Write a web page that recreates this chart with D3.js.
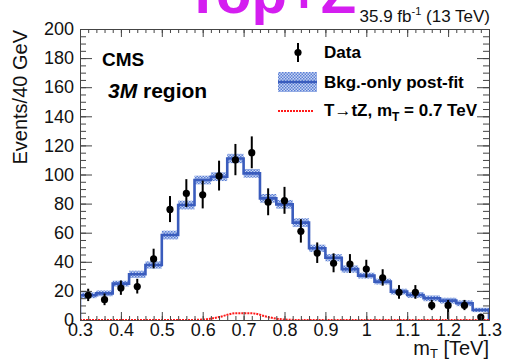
<!DOCTYPE html>
<html>
<head>
<meta charset="utf-8">
<script src="https://cdn.jsdelivr.net/npm/d3@7"></script>
<style>
  body { margin: 0; background: #fff; }
  text { font-family: "Liberation Sans", Arial, Helvetica, sans-serif; }
</style>
</head>
<body>
<script>
// bin edges 0.30 .. 1.30 TeV, 40 GeV wide
const binEdges = d3.range(26).map(i => +(0.3 + i * 0.04).toFixed(2));
const binCenters = binEdges.slice(0, -1).map(e => +(e + 0.02).toFixed(2));

const dataCounts = [17, 14, 22, 23, 42, 76, 87, 86, 99, 110, 115, 81, 82, 61, 46, 39, 38.5, 35, 29, 19, 19, 10, 10, 10, 2];
const dataErrLo  = [4, 3.8, 4.7, 4.8, 6.5, 8.7, 9.3, 9.3, 10, 10.5, 10.7, 9, 9, 7.8, 6.8, 6.2, 6.2, 5.9, 5.4, 4.4, 4.4, 3.2, 9.5, 3.2, 1.4];
const dataErrHi  = [4.5, 4.2, 5.2, 5.3, 7, 9.2, 9.8, 9.8, 10.5, 11, 11.2, 9.5, 9.5, 8.3, 7.3, 6.8, 6.8, 6.4, 5.9, 5, 5, 3.8, 3.8, 3.8, 2.2];
const bkgFit     = [17, 18.3, 25, 31.4, 37.8, 58.4, 79, 96.2, 98.5, 111, 100.8, 83.6, 79.5, 66.9, 49.3, 42.8, 35, 30.5, 26.4, 19.5, 17.2, 14.9, 13.3, 11.5, 6.9];
const bkgUnc     = [2, 2, 2, 2.5, 2.5, 3, 3, 3, 3, 3.2, 3, 3, 3, 3, 2.5, 2.5, 2.5, 2, 2, 2, 2, 2, 2, 2, 1.5];
const signal     = [0, 0, 0, 0, 0, 0, 0, 0.3, 2, 4.6, 4.6, 2, 0.3, 0, 0, 0, 0, 0, 0, 0, 0, 0, 0, 0, 0];

const yTickStep = 20;

const width = 505, height = 361;
const svg = d3.select("body").append("svg")
    .attr("width", width)
    .attr("height", height);

const x = d3.scaleLinear().domain([0.3, 1.3]).range([80, 489]);
const y = d3.scaleLinear().domain([0, 200]).range([320, 29]);

// band pattern
const defs = svg.append("defs");
const pat = defs.append("pattern")
    .attr("id", "band")
    .attr("patternUnits", "userSpaceOnUse")
    .attr("width", 3).attr("height", 3);
pat.append("rect").attr("width", 3).attr("height", 3).attr("fill", "#c9d5f2");
pat.append("rect").attr("width", 1.5).attr("height", 1.5).attr("fill", "#5a7fd6");
pat.append("rect").attr("x", 1.5).attr("y", 1.5).attr("width", 1.5).attr("height", 1.5).attr("fill", "#5a7fd6");

defs.append("clipPath").attr("id", "frame")
    .append("rect").attr("x", 80).attr("y", 29).attr("width", 409).attr("height", 291);

const plot = svg.append("g").attr("clip-path", "url(#frame)");

// uncertainty band (one box per bin)
plot.selectAll("rect.unc")
    .data(bkgFit)
    .join("rect")
    .attr("class", "unc")
    .attr("x", (d, i) => x(binEdges[i]))
    .attr("width", (d, i) => x(binEdges[i + 1]) - x(binEdges[i]))
    .attr("y", (d, i) => y(d + bkgUnc[i]))
    .attr("height", (d, i) => y(d - bkgUnc[i]) - y(d + bkgUnc[i]))
    .attr("fill", "url(#band)");

// background step histogram
const stepPts = [[binEdges[0], 0]];
bkgFit.forEach((v, i) => { stepPts.push([binEdges[i], v]); stepPts.push([binEdges[i + 1], v]); });
stepPts.push([binEdges[binEdges.length - 1], 0]);
plot.append("path")
    .datum(stepPts)
    .attr("fill", "none")
    .attr("stroke", "#3a5cbd")
    .attr("stroke-width", 2.6)
    .attr("d", d3.line().x(d => x(d[0])).y(d => y(d[1])));

// signal
const sigPts = [[0.3, signal[0]]].concat(binCenters.map((c, i) => [c, signal[i]]), [[1.3, signal[signal.length - 1]]]);
plot.append("path")
    .datum(sigPts)
    .attr("fill", "none")
    .attr("stroke", "#ff1a1a")
    .attr("stroke-width", 2)
    .attr("stroke-dasharray", "2,1")
    .attr("d", d3.line().x(d => x(d[0])).y(d => y(d[1])).curve(d3.curveMonotoneX));

// data points
const pts = svg.append("g");
pts.selectAll("line.err")
    .data(dataCounts)
    .join("line")
    .attr("x1", (d, i) => x(binCenters[i]))
    .attr("x2", (d, i) => x(binCenters[i]))
    .attr("y1", (d, i) => y(Math.max(0, d - dataErrLo[i])))
    .attr("y2", (d, i) => y(d + dataErrHi[i]))
    .attr("stroke", "#000")
    .attr("stroke-width", 2);
pts.selectAll("circle")
    .data(dataCounts)
    .join("circle")
    .attr("cx", (d, i) => x(binCenters[i]))
    .attr("cy", d => y(d))
    .attr("r", 3.6)
    .attr("fill", "#000");

// axes
const axisCol = "#444";
function styleAxis(g) {
    g.select(".domain").attr("stroke", axisCol);
    g.selectAll(".tick line").attr("stroke", axisCol);
    g.selectAll("text").attr("fill", "#111").style("font-size", "18px").style("font-family", "Liberation Sans, Arial, sans-serif");
}
const fmtX = d => String(+d.toFixed(1));

svg.append("g").attr("transform", "translate(0,320)")
    .call(d3.axisBottom(x).ticks(50).tickSize(-4).tickFormat("").tickSizeOuter(0)).call(styleAxis);
svg.append("g").attr("transform", "translate(0,320)")
    .call(d3.axisBottom(x).ticks(10).tickSize(-8).tickPadding(3).tickFormat(fmtX).tickSizeOuter(0)).call(styleAxis);
svg.append("g").attr("transform", "translate(0,29)")
    .call(d3.axisTop(x).ticks(50).tickSize(-4).tickFormat("").tickSizeOuter(0)).call(styleAxis);
svg.append("g").attr("transform", "translate(0,29)")
    .call(d3.axisTop(x).ticks(10).tickSize(-8).tickFormat("").tickSizeOuter(0)).call(styleAxis);

svg.append("g").attr("transform", "translate(80,0)")
    .call(d3.axisLeft(y).ticks(50).tickSize(-6).tickFormat("").tickSizeOuter(0)).call(styleAxis);
svg.append("g").attr("transform", "translate(80,0)")
    .call(d3.axisLeft(y).tickValues(d3.range(0, 201, yTickStep)).tickSize(-12).tickPadding(6).tickSizeOuter(0)).call(styleAxis);
svg.append("g").attr("transform", "translate(489,0)")
    .call(d3.axisRight(y).ticks(50).tickSize(-6).tickFormat("").tickSizeOuter(0)).call(styleAxis);
svg.append("g").attr("transform", "translate(489,0)")
    .call(d3.axisRight(y).tickValues(d3.range(0, 201, yTickStep)).tickSize(-12).tickFormat("").tickSizeOuter(0)).call(styleAxis);

// axis titles
const xt = svg.append("text")
    .attr("x", 489).attr("y", 355)
    .attr("text-anchor", "end")
    .style("font-size", "20px").attr("fill", "#111");
xt.append("tspan").text("m");
xt.append("tspan").attr("dy", 3).style("font-size", "13px").text("T");
xt.append("tspan").attr("dy", -3).text(" [TeV]");

svg.append("text")
    .attr("transform", "translate(27,30) rotate(-90)")
    .attr("text-anchor", "end")
    .style("font-size", "20px").attr("fill", "#111")
    .text("Events/40 GeV");

// title and lumi
svg.append("text")
    .attr("x", 185).attr("y", 13)
    .style("font-size", "58px").style("font-weight", "bold")
    .attr("fill", "#d41ef0")
    .text("Top+Z");

const lumi = svg.append("text")
    .attr("x", 490).attr("y", 22)
    .attr("text-anchor", "end")
    .style("font-size", "17px").attr("fill", "#111");
lumi.append("tspan").text("35.9 fb");
lumi.append("tspan").attr("dy", -7).style("font-size", "11px").text("-1");
lumi.append("tspan").attr("dy", 7).text(" (13 TeV)");

svg.append("text")
    .attr("x", 102).attr("y", 66)
    .style("font-size", "19px").style("font-weight", "bold")
    .text("CMS");
const reg = svg.append("text")
    .attr("x", 108).attr("y", 98)
    .style("font-size", "21px").style("font-weight", "bold");
reg.append("tspan").style("font-style", "italic").text("3M");
reg.append("tspan").text(" region");

// legend
const leg = svg.append("g").style("font-size", "17px").style("font-weight", "bold");
leg.append("line").attr("x1", 298).attr("x2", 298).attr("y1", 43).attr("y2", 62)
    .attr("stroke", "#000").attr("stroke-width", 2);
leg.append("circle").attr("cx", 298).attr("cy", 52.5).attr("r", 3.6).attr("fill", "#000");
leg.append("text").attr("x", 324).attr("y", 58).text("Data");

leg.append("rect").attr("x", 278).attr("y", 72).attr("width", 39).attr("height", 20).attr("fill", "url(#band)");
leg.append("line").attr("x1", 278).attr("x2", 317).attr("y1", 82).attr("y2", 82)
    .attr("stroke", "#3a5cbd").attr("stroke-width", 2.6);
leg.append("text").attr("x", 324).attr("y", 88).text("Bkg.-only post-fit");

leg.append("line").attr("x1", 278).attr("x2", 313).attr("y1", 111).attr("y2", 111)
    .attr("stroke", "#ff1a1a").attr("stroke-width", 2).attr("stroke-dasharray", "2,1");
const st = leg.append("text").attr("x", 324).attr("y", 116);
st.append("tspan").text("T\u2192tZ, m");
st.append("tspan").attr("dy", 5).style("font-size", "12px").text("T");
st.append("tspan").attr("dy", -5).text(" = 0.7 TeV");
</script>
</body>
</html>
